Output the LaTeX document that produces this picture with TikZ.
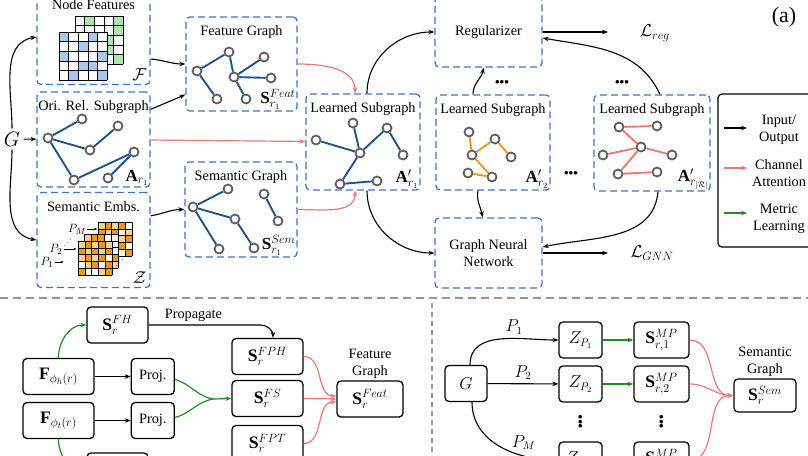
\documentclass[tikz,border=0pt]{standalone}
\usepackage{fontspec}
\setmainfont{Liberation Serif}
\usepackage{xcolor}
\usepackage{tikz}
\usetikzlibrary{positioning, arrows.meta}
\definecolor{dblue}{RGB}{68,114,196}
\definecolor{eblue}{RGB}{31,84,140}
\definecolor{ngray}{RGB}{95,95,95}
\definecolor{pinkc}{RGB}{240,118,118}
\definecolor{greenc}{RGB}{34,139,34}
\definecolor{orgc}{RGB}{238,150,30}
\definecolor{gridblue}{RGB}{168,200,236}
\definecolor{gridgreen}{RGB}{176,230,176}
\definecolor{sepgray}{RGB}{150,150,150}
% 5x5 feature matrix: x, y, cell, colour, light cells, dark cells
\newcommand{\matgrid}[6]{%
  \fill[white] (#1,#2) rectangle ++(5*#3,5*#3);
  \foreach \c/\r in {#5} \fill[#4!45] (#1+\c*#3-#3,#2+\r*#3-#3) rectangle ++(#3,#3);
  \foreach \c/\r in {#6} \fill[#4] (#1+\c*#3-#3,#2+\r*#3-#3) rectangle ++(#3,#3);
  \foreach \k in {0,...,5} {
    \draw[line width=0.6pt] (#1+\k*#3,#2) -- ++(0,5*#3);
    \draw[line width=0.6pt] (#1,#2+\k*#3) -- ++(5*#3,0);
  }
}
\newcommand{\bdots}{$\mathord{\bullet}\mathord{\bullet}\mathord{\bullet}$}

\begin{document}
\begin{tikzpicture}[x=1pt, y=-1pt, >={Stealth[length=6pt,width=4.5pt]},
  font=\fontsize{14.3}{17}\selectfont,
  dbox/.style={draw=dblue, line width=1.3pt, dash pattern=on 7pt off 4pt, rounded corners=4pt},
  bbox/.style={draw, line width=1.3pt, rounded corners=4pt, minimum height=36},
  mb/.style={bbox, font=\fontsize{17.5}{19}\selectfont},
  gn/.style={circle, draw=ngray, fill=white, line width=1.8pt, minimum size=9, inner sep=0},
  ge/.style={line width=1.9pt},
  io/.style={->, line width=1.1pt},
  sio/.style={-{Stealth[length=3pt,width=2.5pt]}, line width=0.6pt},
  att/.style={->, draw=pinkc, line width=1.2pt},
  met/.style={->, draw=greenc, line width=1.2pt},
  lbl/.style={anchor=south east, inner sep=2pt, font=\fontsize{17}{19}\selectfont},
  dots/.style={font=\fontsize{9}{10}\selectfont, inner sep=1pt}]
\clip (0,0) rectangle (808,455);

% ---- inputs
\node[dbox, minimum width=113, minimum height=95] (nf) at (93.5,37) {};
\node[below=7pt of nf.north] {Node Features};
\matgrid{75}{16}{9.6}{gridgreen}{2/1}{2/1,5/1,5/2,4/3,4/4,5/5}
\matgrid{59}{32}{9.6}{gridblue}{1/1}{1/1,4/1,3/2,1/3,5/3,3/4,4/4,2/5,5/5}
\node[lbl, inner sep=4pt] at (nf.south east) {$\mathcal{F}$};

\node[dbox, minimum width=113, minimum height=95] (ori) at (93.5,139.5) {};
\node[below=6pt of ori.north] {Ori. Rel. Subgraph};
\foreach \n/\x/\y in {1/48/138, 2/82/119, 3/90/150, 4/118/126, 5/134/152, 6/74/180, 7/108/178}
  \node[gn] (o\n) at (\x,\y) {};
\foreach \a/\b in {1/2, 1/3, 3/4, 1/6, 6/5, 7/5}
  \draw[ge, eblue] (o\a) -- (o\b);
\node[lbl] at (ori.south east) {$\mathbf{A}_{r_1}$};

\node[dbox, minimum width=113, minimum height=95] (sem) at (93.5,240) {};
\node[below=6pt of sem.north] {Semantic Embs.};
\matgrid{98}{222}{6.8}{orgc}{1/1,3/1,2/2,5/2,1/3,4/3,3/5}{2/1,4/1,1/2,3/2,2/3,5/3,3/4,4/4,1/5,5/5}
\matgrid{84}{234}{6.8}{orgc}{1/1,4/2,2/3,5/5}{2/1,3/1,1/2,3/2,4/3,5/4,1/4}
\matgrid{78}{241}{6.8}{orgc}{1/1,3/1,5/1,2/2,4/2,1/3,3/3,2/4,4/5}{2/1,4/1,1/2,3/2,5/2,2/3,4/3,3/4,5/4,1/5,5/5}
\node[lbl, inner sep=4pt] at (sem.south east) {$\mathcal{Z}$};
\begin{scope}[font=\fontsize{12.5}{14}\selectfont]
\node[inner sep=1pt] (pm) at (77,229) {$P_M$};
\node[inner sep=1pt] (p2) at (56,249) {$P_2$};
\node[inner sep=1pt] (p1) at (47,262) {$P_1$};
\draw[sio] (pm.east) -- ++(10,0);
\draw[sio] (p2.east) -- ++(13,0);
\draw[sio] (p1.east) -- ++(9,0);
\node[rotate=-45, font=\fontsize{7}{8}\selectfont] at (70,241) {$\vdots$};
\node[rotate=-45, font=\fontsize{7}{8}\selectfont] at (122,261) {$\vdots$};
\end{scope}

\node[font=\fontsize{20}{22}\selectfont] (G) at (12,139) {$G$};
\path[io] (G) edge (ori);
\draw[io] (G.north) to[out=90, in=190] (nf.west);
\draw[io] (G.south) to[out=-90, in=170] (sem.west);

% ---- feature / semantic graphs
\node[dbox, minimum width=111, minimum height=94] (fg) at (241.5,64) {};
\node[below=6pt of fg.north] {Feature Graph};
\foreach \n/\x/\y in {1/197/71, 2/229/52, 3/234/77, 4/264/57, 5/271/78, 6/217/99, 7/246/99}
  \node[gn] (f\n) at (\x,\y) {};
\foreach \a/\b in {1/2, 2/3, 3/4, 3/5, 3/7, 1/6}
  \draw[ge, eblue] (f\a) -- (f\b);
\node[lbl] at (fg.south east) {$\mathbf{S}^{Feat}_{r_1}$};

\node[dbox, minimum width=112, minimum height=95] (sg) at (241,209.5) {};
\node[below=6pt of sg.north] {Semantic Graph};
\foreach \n/\x/\y in {1/193/207, 2/228/189, 3/235/219, 4/264/194, 5/278/221, 6/219/249, 7/254/248}
  \node[gn] (s\n) at (\x,\y) {};
\foreach \a/\b in {1/2, 1/3, 3/7, 1/6, 4/5}
  \draw[ge, eblue] (s\a) -- (s\b);
\node[lbl] at (sg.south east) {$\mathbf{S}^{Sem}_{r_1}$};

\draw[io] ([yshift=-22pt]nf.east) to[out=-5, in=180] (fg.west);
\draw[io] ([yshift=-18pt]ori.north east) -- ([yshift=17pt]fg.south west);
\draw[io] ([yshift=-24pt]sem.north east) to[out=10, in=180] (sg.west);

% ---- learned subgraphs
\node[dbox, minimum width=114, minimum height=96] (ls1) at (363,142) {};
\node[below=6pt of ls1.north] {Learned Subgraph};
\foreach \n/\x/\y in {1/316/140, 2/353/123, 3/360/153, 4/387/128, 5/403/155, 6/340/184, 7/377/181}
  \node[gn] (a\n) at (\x,\y) {};
\foreach \a/\b in {1/3, 2/3, 3/4, 4/5, 3/6, 6/7}
  \draw[ge, eblue] (a\a) -- (a\b);
\node[lbl] at (ls1.south east) {$\mathbf{A}'_{r_1}$};

\node[dbox, minimum width=114, minimum height=95] (ls2) at (493,142.5) {};
\node[below=6pt of ls2.north] {Learned Subgraph};
\foreach \n/\x/\y in {1/469/132, 2/495/139, 3/472/155, 4/511/157, 5/468/173, 6/492/177}
  \node[gn] (b\n) at (\x,\y) {};
\foreach \a/\b in {1/3, 3/2, 2/4, 3/6, 5/6}
  \draw[ge, orgc] (b\a) -- (b\b);
\node[lbl] at (ls2.south east) {$\mathbf{A}'_{r_2}$};

\node[dbox, minimum width=116, minimum height=96] (ls3) at (652,143) {};
\node[below=6pt of ls3.north] {Learned Subgraph};
\foreach \n/\x/\y in {1/619/127, 2/657/126, 3/641/147, 4/603/155, 5/672/155, 6/618/174, 7/657/172}
  \node[gn] (c\n) at (\x,\y) {};
\foreach \a/\b in {1/2, 1/3, 4/3, 3/5, 3/6, 6/7}
  \draw[ge, pinkc] (c\a) -- (c\b);
\node[lbl] at (ls3.south east) {$\mathbf{A}'_{r_{|\mathcal{R}|}}$};

\node[dots] at (502,82) {\bdots};
\node[dots] at (622,82) {\bdots};
\node[dots] at (571,173) {\bdots};

\draw[att] (fg.east) to[out=0, in=90] ([xshift=-8pt]ls1.north);
\path[att] (ori) edge (ls1);
\draw[att] (sg.east) to[out=0, in=-90] ([xshift=-8pt]ls1.south);

% ---- regularizer and GNN
\node[dbox, minimum width=107, minimum height=70] (reg) at (488.5,32) {Regularizer};
\node[dbox, minimum width=107, minimum height=70, align=center] (gnn) at (488.5,253) {Graph Neural\\Network};
\node[font=\fontsize{18.5}{20}\selectfont] (lreg) at (655,33) {$\mathcal{L}_{reg}$};
\node[font=\fontsize{18.5}{20}\selectfont] (lgnn) at (652,253) {$\mathcal{L}_{GNN}$};
\draw[io] (reg.east) -- (reg.east -| {608,0});
\draw[io] (gnn.east) -- (gnn.east -| {608,0});

\draw[io] ([xshift=4pt]ls1.north) to[out=90, in=180] (reg.west);
\draw[io] ([xshift=4pt]ls1.south) to[out=-90, in=180] (gnn.west);
\draw[io] ([xshift=-20pt]ls2.north) to[out=90, in=-100] ([xshift=-5pt]reg.south);
\draw[io] ([xshift=-15pt]ls2.south) to[out=-100, in=100] ([xshift=-6pt]gnn.north);
\draw[io] ([xshift=8pt]ls3.north) to[out=115, in=-10] ([yshift=-6pt]reg.east);
\draw[io] ([xshift=6pt]ls3.south) to[out=-95, in=12] ([yshift=6pt]gnn.east);

% ---- legend
\node[draw, line width=1.2pt, rounded corners=4pt, minimum width=96, minimum height=153] (leg) at (766,170.5) {};
\node[align=center] (lg1) at (779,130) {Input/\\Output};
\node[align=center] (lg2) at (779,173) {Channel\\Attention};
\node[align=center] (lg3) at (779,219) {Metric\\Learning};
\coordinate (k1) at (724,128);
\coordinate (k2) at (724,168);
\coordinate (k3) at (724,213);
\draw[io] (k1) -- ++(23,0);
\draw[att] (k2) -- ++(23,0);
\draw[met] (k3) -- ++(23,0);
\node[font=\fontsize{22}{24}\selectfont] at (784,17) {(a)};

% ---- separators
\draw[sepgray, line width=1.4pt, dash pattern=on 8pt off 5pt] (0,298) -- (808,298);
\draw[sepgray, line width=1.4pt, dash pattern=on 5pt off 4pt] (432,303) -- (432,455);

% ---- bottom left: feature graph
\node[mb, minimum width=61] (sfh) at (117.5,325) {$\mathbf{S}_r^{FH}$};
\node[mb, minimum width=71] (fh) at (58.5,376.5) {$\mathbf{F}_{\phi_h(r)}$};
\node[mb, minimum width=71] (ft) at (58.5,420.5) {$\mathbf{F}_{\phi_t(r)}$};
\node[bbox, minimum width=43] (pj1) [right=36pt of fh] {Proj.};
\node[bbox, minimum width=43] (pj2) [right=36pt of ft] {Proj.};
\node[mb, minimum width=61] (sft) at (117.5,471) {$\mathbf{S}_r^{FT}$};
\node[mb, minimum width=71] (sfph) at (267.5,356.5) {$\mathbf{S}_r^{FPH}$};
\node[mb, minimum width=71] (sfs) at (267.5,398.5) {$\mathbf{S}_r^{FS}$};
\node[mb, minimum width=71] (sfpt) at (267.5,443.5) {$\mathbf{S}_r^{FPT}$};
\node[mb, minimum width=66] (sfeat) at (370,399) {$\mathbf{S}_r^{Feat}$};
\node[align=center, above=0pt of sfeat, inner sep=2pt] {Feature\\Graph};
\coordinate (mg) at (213,399);

\path[io] (fh) edge (pj1);
\path[io] (ft) edge (pj2);
\draw[met] (fh.north) to[out=90, in=180] (sfh.west);
\draw[met] (ft.south) to[out=-90, in=180] (sft.west);
\draw[met, -] ([yshift=-3pt]pj1.east) to[out=-15, in=170] (mg);
\draw[met, -] ([yshift=3pt]pj2.east) to[out=15, in=190] (mg);
\draw[met] (mg) -- (sfs.west);
\draw[io] (sfh.east) -- node[above, pos=0.4] {Propagate} ++(112,0) to[out=0, in=90] ([xshift=5.5pt]sfph.north);
\draw[att] (sfph.east) to[out=0, in=180] ([yshift=3pt]sfeat.west);
\draw[att] (sfs.east) -- (sfeat.west);
\draw[att] (sfpt.east) to[out=0, in=180] ([yshift=-3pt]sfeat.west);

% ---- bottom right: semantic graph
\node[bbox, minimum width=42, font=\fontsize{16}{18}\selectfont] (g) at (466,383.5) {$G$};
\node[bbox, minimum width=43, font=\fontsize{16}{18}\selectfont] (zp1) at (580.5,340) {$Z_{P_1}$};
\node[bbox, minimum width=43, font=\fontsize{16}{18}\selectfont] (zp2) at (580.5,384) {$Z_{P_2}$};
\node[bbox, minimum width=43, font=\fontsize{16}{18}\selectfont] (zpm) at (580.5,460) {$Z_{P_M}$};
\node[mb, minimum width=55] (smp1) at (661.5,340) {$\mathbf{S}^{MP}_{r,1}$};
\node[mb, minimum width=55] (smp2) at (661.5,384) {$\mathbf{S}^{MP}_{r,2}$};
\node[mb, minimum width=55] (smpm) at (661.5,460) {$\mathbf{S}^{MP}_{r,M}$};
\node[mb, minimum width=62, minimum height=33] (ssem) at (765,395.5) {$\mathbf{S}_r^{Sem}$};
\node[align=center, above=0pt of ssem, inner sep=2pt] {Semantic\\Graph};
\node[dots, rotate=90] at (580.5,422) {\bdots};
\node[dots, rotate=90] at (661.5,422) {\bdots};

\begin{scope}[font=\fontsize{16}{18}\selectfont]
\draw[io] (g) -- node[above] {$P_2$} (zp2);
\draw[io] ([xshift=4pt]g.north) to[out=90, in=180] node[above, pos=0.62] {$P_1$} (zp1.west);
\draw[io] ([xshift=6pt]g.south) to[out=-90, in=180] node[above right, pos=0.6, inner sep=1pt] {$P_M$} (zpm.west);
\end{scope}
\path[met] (zp1) edge (smp1);
\path[met] (zp2) edge (smp2);
\draw[att] (smp1.east) to[out=0, in=180] (ssem.west);
\draw[att] (smp2.east) to[out=0, in=180] (ssem.west);
\draw[att] (smpm.east) to[out=0, in=180] (ssem.west);
\end{tikzpicture}
\end{document}
